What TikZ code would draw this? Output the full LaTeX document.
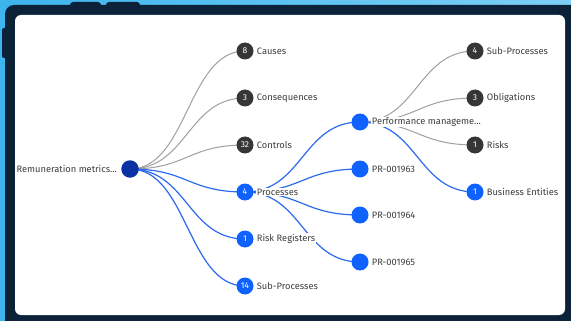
\documentclass[tikz,border=0pt]{standalone}
\usepackage{fontspec}
\setmainfont{Fira Sans}
\usetikzlibrary{calc}
\definecolor{navy}{HTML}{0B2239}
\definecolor{skyL}{HTML}{3DB4EE}
\definecolor{skyR}{HTML}{7DD0F6}
\definecolor{darkdot}{HTML}{363636}
\definecolor{bluedot}{HTML}{0F62FE}
\definecolor{rootblue}{HTML}{0A32A3}
\definecolor{edgegray}{HTML}{A0A0A0}
\definecolor{edgeblue}{HTML}{2E6AF0}
\definecolor{txt}{HTML}{3D3D3D}
\pgfdeclarelayer{back}
\pgfdeclarelayer{edges}
\pgfsetlayers{back,edges,main}
\tikzset{
  dot/.style={circle, inner sep=0pt, minimum size=17pt, text=white, font=\fontsize{8.5}{9}\selectfont},
  gdot/.style={dot, fill=darkdot},
  bdot/.style={dot, fill=bluedot},
  rdot/.style={dot, fill=rootblue, minimum size=17.5pt},
  lbl/.style={font=\fontsize{9.3}{10}\selectfont, text=txt, fill=white, inner sep=1pt},
  gedge/.style={draw=edgegray, line width=1pt},
  bedge/.style={draw=edgeblue, line width=1.2pt},
}
\newcommand\tedge[3]{\draw[#1] let \p1=(#2.center), \p2=(#3.center) in (\p1) .. controls ({(\x1+\x2)/2},\y1) and ({(\x1+\x2)/2},\y2) .. (\p2);}
\begin{document}
\begin{tikzpicture}[x=1pt,y=-1pt]
\useasboundingbox (0,0) rectangle (571,321);
\begin{pgfonlayer}{back}
\shade[left color=skyL, right color=skyR] (0,0) rectangle (571,321);
\fill[navy, rounded corners=9pt] (5,5) rectangle (585,335);
\fill[navy, rounded corners=3pt] (70,2) rectangle (101,9);
\fill[navy, rounded corners=3pt] (106,2) rectangle (140,9);
\fill[navy, rounded corners=2pt] (2,28) rectangle (8,58);
\fill[white, rounded corners=6pt] (15,15) rectangle (565,315);
\end{pgfonlayer}
% nodes
\node[rdot] (root) at (130,169) {};
\node[lbl, anchor=east] (rootl) at ($(root.west)+(-3,0)$) {Remuneration metrics...};
\node[gdot] (causes) at (245,51) {8};
\node[gdot] (cons) at (245,98) {3};
\node[gdot] (ctrl) at (245,145) {32};
\node[bdot] (proc) at (245,192) {4};
\node[bdot] (rreg) at (245,239) {1};
\node[bdot] (subp) at (245,286) {14};
\node[bdot] (perf) at (360,122) {};
\node[bdot] (pr63) at (360,169) {};
\node[bdot] (pr64) at (360,215) {};
\node[bdot] (pr65) at (360,262) {};
\node[gdot] (sub4) at (475,51) {4};
\node[gdot] (obl) at (475,98) {3};
\node[gdot] (risks) at (475,145) {1};
\node[bdot] (bent) at (475,192) {1};
\foreach \n/\t in {causes/Causes, cons/Consequences, ctrl/Controls, proc/Processes, rreg/Risk Registers, subp/Sub-Processes, pr63/PR-001963, pr64/PR-001964, pr65/PR-001965, sub4/Sub-Processes, obl/Obligations, risks/Risks, bent/Business Entities}
  \node[lbl, anchor=west] (\n l) at ($(\n.east)+(2,0)$) {\t};
\node[lbl, anchor=west] (perfl) at ($(perf.east)+(2,0)$) {Performance manageme...};
\begin{pgfonlayer}{edges}
\tedge{gedge}{root}{causes}
\tedge{gedge}{root}{cons}
\tedge{gedge}{root}{ctrl}
\tedge{bedge}{root}{proc}
\tedge{bedge}{root}{rreg}
\tedge{bedge}{root}{subp}
\tedge{bedge}{proc}{perf}
\tedge{bedge}{proc}{pr63}
\tedge{bedge}{proc}{pr64}
\tedge{bedge}{proc}{pr65}
\tedge{gedge}{perf}{sub4}
\tedge{gedge}{perf}{obl}
\tedge{gedge}{perf}{risks}
\tedge{bedge}{perf}{bent}
\end{pgfonlayer}
\end{tikzpicture}
\end{document}
